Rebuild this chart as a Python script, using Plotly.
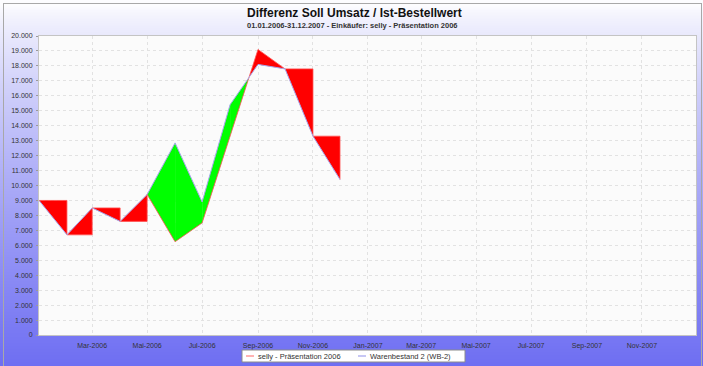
import plotly.graph_objects as go
import pandas as pd
import zlib
import struct
import base64

# ---------------- data ----------------
months = ["2006-01-01", "2006-02-01", "2006-03-01", "2006-04-01", "2006-05-01", "2006-06-01",
          "2006-07-01", "2006-08-01", "2006-09-01", "2006-10-01", "2006-11-01", "2006-12-01"]
selly = [9000, 6700, 8500, 7600, 9400, 6240, 7500, 13300, 19100, 17800, 13300, 10400]
warenbestand = [9000, 6700, 8500, 7600, 9400, 12850, 8900, 15400, 18100, 17800, 13300, 10400]
tick_dates = ["2006-03-01", "2006-05-01", "2006-07-01", "2006-09-01", "2006-11-01", "2007-01-01",
              "2007-03-01", "2007-05-01", "2007-07-01", "2007-09-01", "2007-11-01"]
tick_labels = ["Mar-2006", "Mai-2006", "Jul-2006", "Sep-2006", "Nov-2006", "Jan-2007",
               "Mar-2007", "Mai-2007", "Jul-2007", "Sep-2007", "Nov-2007"]
series_names = ["selly - Präsentation 2006", "Warenbestand 2 (WB-2)"]
title_text = "Differenz Soll Umsatz / Ist-Bestellwert"
subtitle_text = "01.01.2006-31.12.2007 - Einkäufer: selly - Präsentation 2006"

# ---------------- geometry helpers ----------------
W, H = 703, 366
L, R, T, B = 39, 696, 36, 335


def fx(px):
    return (px - L) / (R - L)


def fy(py):
    return (B - py) / (B - T)


POS = "#ff0000"
NEG = "#00ff00"
RED_LINE = "#ff5050"
BLUE_LINE = "#a6a6ec"

xs = list(pd.to_datetime(months))
red_x, red_y = [xs[0]], [selly[0]]
polys = []
for i in range(len(xs) - 1):
    x0, x1 = xs[i], xs[i + 1]
    r0, r1 = selly[i], selly[i + 1]
    b0, b1 = warenbestand[i], warenbestand[i + 1]
    if r0 == b0 and r1 == b1:
        polys.append(([x0, x1, x1, x0], [r0, r0, r1, b0], POS))
        red_x += [x1, x1]
        red_y += [r0, r1]
    else:
        d0, d1 = r0 - b0, r1 - b1
        if d0 * d1 < 0:
            t = d0 / (d0 - d1)
            xc = x0 + (x1 - x0) * t
            yc = r0 + (r1 - r0) * t
            polys.append(([x0, xc, x0], [r0, yc, b0], POS if d0 > 0 else NEG))
            polys.append(([xc, x1, x1], [yc, r1, b1], POS if d1 > 0 else NEG))
        else:
            d = d0 if d0 != 0 else d1
            polys.append(([x0, x1, x1, x0], [r0, r1, b1, b0], POS if d > 0 else NEG))
        red_x.append(x1)
        red_y.append(r1)

fig = go.Figure()
for px_, py_, col in polys:
    fig.add_trace(go.Scatter(x=px_, y=py_, fill="toself", fillcolor=col, mode="lines",
                             line=dict(width=0, color=col), showlegend=False, hoverinfo="skip"))

fig.add_trace(go.Scatter(x=red_x, y=red_y, mode="lines", name=series_names[0],
                         line=dict(color=RED_LINE, width=0.8), showlegend=False))
fig.add_trace(go.Scatter(x=xs, y=warenbestand, mode="lines", name=series_names[1],
                         line=dict(color=BLUE_LINE, width=1), showlegend=False))


# ---------------- background image (gradient + frame) ----------------
def make_png(w, h, pixel):
    rows = []
    for yy in range(h):
        row = bytearray(b"\x00")
        for xx in range(w):
            row += bytes(pixel(xx, yy))
        rows.append(bytes(row))
    raw = b"".join(rows)

    def chunk(tag, data):
        c = struct.pack(">I", len(data)) + tag + data
        return c + struct.pack(">I", zlib.crc32(tag + data) & 0xffffffff)

    return (b"\x89PNG\r\n\x1a\n" +
            chunk(b"IHDR", struct.pack(">IIBBBBB", w, h, 8, 2, 0, 0, 0)) +
            chunk(b"IDAT", zlib.compress(raw, 9)) +
            chunk(b"IEND", b""))


top_c = (252, 252, 254)
bot_c = (110, 110, 242)
g0, g1 = 5, 366
frame_c = (168, 168, 168)
plot_c = (251, 251, 251)


def pixel(xx, yy):
    if (xx == 3 and yy >= 3) or (yy == 3 and 3 <= xx <= 701) or (xx == 701 and yy >= 3):
        return frame_c
    if L <= xx <= R and T <= yy <= B:
        return plot_c
    t = max(0.0, min(1.0, (yy - g0) / (g1 - g0))) ** 0.8
    return tuple(round(top_c[k] + (bot_c[k] - top_c[k]) * t) for k in range(3))


png = make_png(W, H, pixel)
uri = "data:image/png;base64," + base64.b64encode(png).decode()

images = [dict(source=uri, xref="paper", yref="paper", x=fx(0), y=fy(0),
               sizex=W / (R - L), sizey=H / (B - T), xanchor="left", yanchor="top",
               sizing="stretch", layer="below", opacity=1)]

# ---------------- manual legend (box, sample lines, texts) ----------------
shapes = [
    dict(type="rect", xref="paper", yref="paper", layer="above",
         x0=fx(242), x1=fx(465), y0=fy(362), y1=fy(350),
         fillcolor="#ffffff", line=dict(color="#8c8c8c", width=1)),
    dict(type="line", xref="paper", yref="paper", layer="above",
         x0=fx(246), x1=fx(254), y0=fy(356), y1=fy(356), line=dict(color="#ff9a9a", width=1.5)),
    dict(type="line", xref="paper", yref="paper", layer="above",
         x0=fx(358), x1=fx(366), y0=fy(356), y1=fy(356), line=dict(color="#b4b4f0", width=1.5)),
]

annotations = [
    dict(text="<b>" + title_text + "</b>", xref="paper", yref="paper", x=fx(354), y=fy(13),
         xanchor="center", yanchor="middle", showarrow=False,
         font=dict(family="Liberation Sans", size=12, color="#111")),
    dict(text="<b>" + subtitle_text + "</b>", xref="paper", yref="paper", x=fx(352), y=fy(25.5),
         xanchor="center", yanchor="middle", showarrow=False,
         font=dict(family="Liberation Sans", size=7.5, color="#333")),
    dict(text=series_names[0], xref="paper", yref="paper", x=fx(256), y=fy(356),
         xanchor="left", yanchor="middle", showarrow=False,
         font=dict(family="Liberation Sans", size=7.5, color="#333")),
    dict(text=series_names[1], xref="paper", yref="paper", x=fx(368), y=fy(356),
         xanchor="left", yanchor="middle", showarrow=False,
         font=dict(family="Liberation Sans", size=7.5, color="#333")),
]

fig.update_layout(
    width=W, height=H, autosize=False,
    margin=dict(l=L, r=W - R, t=T, b=H - B, pad=0, autoexpand=False),
    paper_bgcolor="rgba(0,0,0,0)", plot_bgcolor="rgba(0,0,0,0)",
    separators=",.",
    font=dict(family="Liberation Sans", size=7, color="#333"),
    images=images, shapes=shapes, annotations=annotations,
    showlegend=False,
    hovermode=False,
)
fig.update_xaxes(type="date", range=["2006-01-01", "2007-12-31"], automargin=False,
                 tickmode="array", tickvals=tick_dates, ticktext=tick_labels,
                 showgrid=True, gridcolor="#e2e2e2", griddash="dot", gridwidth=1,
                 showline=True, mirror=True, linecolor="#c4c4c4", linewidth=1,
                 ticks="", zeroline=False, ticklabelstandoff=4,
                 tickfont=dict(size=7, color="#333"))
fig.update_yaxes(range=[0, 20000], dtick=1000, tick0=0, tickformat=",d", automargin=False,
                 showgrid=True, gridcolor="#e2e2e2", griddash="dot", gridwidth=1,
                 showline=True, mirror=True, linecolor="#c4c4c4", linewidth=1,
                 ticks="outside", ticklen=2, tickcolor="#999", zeroline=False,
                 ticklabelstandoff=2, tickfont=dict(size=7, color="#333"))

fig.write_html("out.html", config={"staticPlot": True, "displayModeBar": False})
